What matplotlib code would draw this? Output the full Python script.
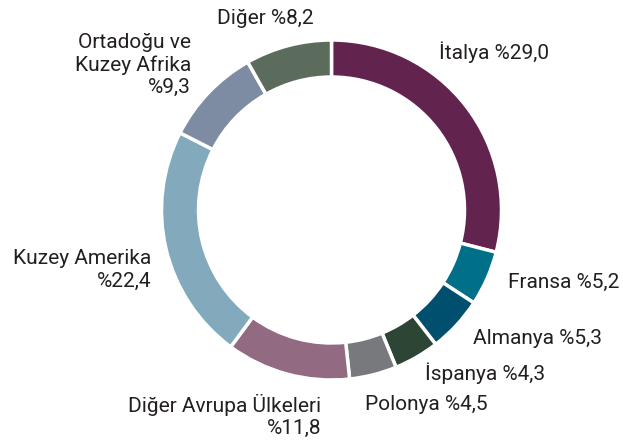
import matplotlib.pyplot as plt

labels = ["İtalya", "Fransa", "Almanya", "İspanya", "Polonya",
          "Diğer Avrupa Ülkeleri", "Kuzey Amerika", "Ortadoğu ve Kuzey Afrika", "Diğer"]
shares = [29.0, 5.2, 5.3, 4.3, 4.5, 11.8, 22.4, 9.3, 8.2]
colors = ["#62244F", "#007088", "#004F6E", "#2C4534", "#77797C",
          "#926A81", "#82AABC", "#7E8CA3", "#5B6B5C"]

# label text as printed (Turkish percent style)
texts = ["İtalya %29,0", "Fransa %5,2", "Almanya %5,3", "İspanya %4,3", "Polonya %4,5",
         "Diğer Avrupa Ülkeleri\n%11,8", "Kuzey Amerika\n%22,4", "Ortadoğu ve\nKuzey Afrika\n%9,3",
         "Diğer %8,2"]
# (x, y, ha) in pixel coords of the picture, y from top
spots = [(439, 52, "left"), (508, 282, "left"), (473, 338, "left"), (425, 373, "left"),
         (365, 405, "left"), (321, 416, "right"), (151, 270, "right"), (191, 65, "right"),
         (265, 18, "center")]

plt.rcParams['font.family'] = ['Liberation Sans Narrow', 'Roboto', 'DejaVu Sans']

W, H = 623, 441
fig = plt.figure(figsize=(W / 100, H / 100), dpi=100)
ax = fig.add_axes([0, 0, 1, 1])

ax.pie(shares, colors=colors, startangle=90, counterclock=False,
       center=(331.5, H - 210), radius=170,
       wedgeprops=dict(width=37, edgecolor="white", linewidth=2.5))

ax.set_xlim(0, W)
ax.set_ylim(0, H)
ax.set_aspect("equal")
ax.axis("off")

for t, (x, y, ha) in zip(texts, spots):
    ax.text(x, H - y, t, ha=ha, va="center", fontsize=15, color="#231F20",
            linespacing=1.2, multialignment=ha if ha != "center" else "center")

fig.savefig("out.png", dpi=100)
